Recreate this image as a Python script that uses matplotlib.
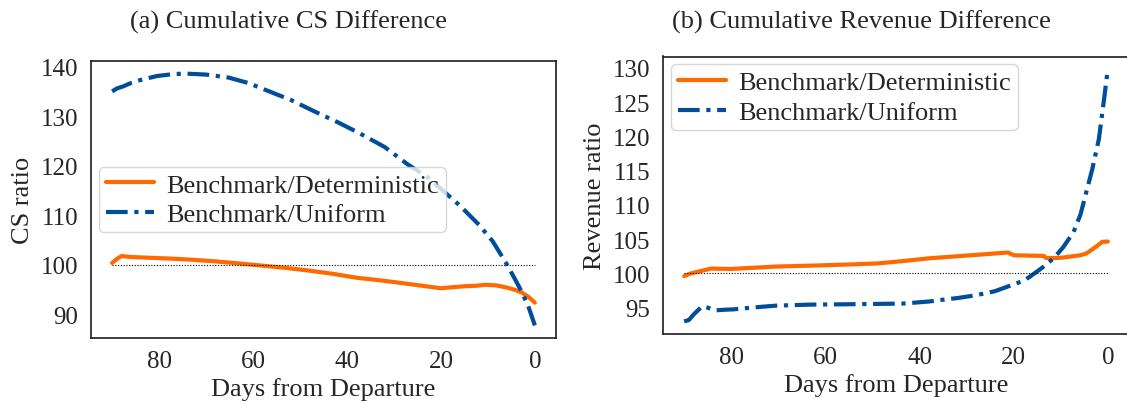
import matplotlib
matplotlib.use("Agg")
import matplotlib.pyplot as plt
import seaborn as sns

sns.set_style("white")
plt.rcParams['font.family'] = ['Liberation Serif', 'DejaVu Serif']

# ---- data (a) Cumulative CS difference ----
cs_det_days = [90, 89, 88, 86, 83.5, 78, 73, 68.4, 63, 58, 53, 48, 43, 37.8, 33, 28, 24, 20, 17, 15, 12.5, 10.4, 8, 5.8, 4, 2.7, 1.3, 0]
cs_det_vals = [100.4, 101.2, 101.8, 101.6, 101.5, 101.3, 101.05, 100.75, 100.3, 99.85, 99.4, 98.85, 98.2, 97.4, 96.9, 96.3, 95.8, 95.3, 95.55, 95.7, 95.8, 96.0, 95.85, 95.4, 94.9, 94.4, 93.5, 92.4]

cs_uni_days = [90, 89, 87.7, 86, 84, 80.5, 77, 74.4, 70, 65.2, 61, 57.6, 52, 47, 42, 37.8, 32, 27.1, 23, 20.3, 16, 11.9, 9, 6.2, 4.5, 2.8, 1.3, 0]
cs_uni_vals = [135.0, 135.6, 136.0, 136.7, 137.3, 138.1, 138.5, 138.6, 138.4, 137.8, 136.7, 135.4, 133.3, 131.0, 128.8, 126.8, 123.8, 120.3, 117.8, 115.6, 112.0, 108.1, 104.8, 100.5, 97.6, 94.6, 91.4, 87.8]

# ---- data (b) Cumulative revenue difference ----
rev_det_days = [90, 88.8, 87.4, 85.5, 84.3, 80, 76, 70.4, 62, 55, 49, 43.5, 38, 32, 26, 21.2, 20, 17, 13.6, 13.1, 11, 9.6, 7.5, 5.8, 4.6, 3.5, 2.3, 1.2, 0]
rev_det_vals = [99.6, 99.95, 100.2, 100.5, 100.7, 100.65, 100.8, 101.0, 101.15, 101.3, 101.45, 101.8, 102.2, 102.5, 102.8, 103.05, 102.65, 102.6, 102.55, 102.25, 102.25, 102.3, 102.5, 102.65, 102.9, 103.4, 104.0, 104.6, 104.65]

rev_uni_days = [90, 89, 88, 86.2, 85, 83.5, 81.5, 79.6, 75, 70.4, 63, 55, 49, 43.5, 38, 35.8, 32, 28.1, 24, 20.4, 18, 16.6, 14, 11.5, 9.5, 7.3, 5.8, 4.6, 3.3, 1.9, 0.8, 0]
rev_uni_vals = [93.0, 93.2, 94.0, 95.2, 95.0, 94.6, 94.7, 94.75, 95.05, 95.3, 95.45, 95.5, 95.55, 95.6, 95.9, 96.1, 96.4, 96.8, 97.4, 98.3, 98.9, 99.5, 100.8, 102.2, 103.8, 106.0, 108.6, 111.8, 115.2, 119.6, 125.4, 129.8]

ref_days = [90, 0]
ref_vals = [100, 100]

orange = '#ff6a00'
blue = '#004d99'
fs = 19
tfs = 18
lw = 3.0
dashdot = (0, (5.2, 1.6, 1.0, 1.6))

fig = plt.figure(figsize=(11.27, 4.06), dpi=100)
W, H = 1127, 406
ax1 = fig.add_axes([91 / W, 1 - 339 / H, 465 / W, 277 / H])
ax2 = fig.add_axes([663 / W, 1 - 335 / H, 466 / W, 277.5 / H])

for ax in (ax1, ax2):
    for s in ax.spines.values():
        s.set_color('0.15')
        s.set_linewidth(1.25)
    ax.tick_params(labelsize=tfs, length=0, pad=9)
    ax.set_xlim(94.5, -4.5)
    ax.set_xticks([80, 60, 40, 20, 0])
    ax.set_xlabel('Days from Departure', fontsize=fs, labelpad=3)

leg_kw = dict(fontsize=fs, frameon=True, handlelength=1.85, handletextpad=0.45,
              borderpad=0.25, labelspacing=0.22, borderaxespad=0.3)

ax1.plot(cs_det_days, cs_det_vals, color=orange, lw=lw, label='Benchmark/Deterministic')
ax1.plot(cs_uni_days, cs_uni_vals, color=blue, lw=lw, ls=dashdot, label='Benchmark/Uniform')
ax1.plot(ref_days, ref_vals, color='black', lw=0.8, ls=(0, (1, 1.5)))
ax1.set_yticks([90, 100, 110, 120, 130, 140])
ax1.set_ylabel('CS ratio', fontsize=fs, labelpad=5)
ax1.legend(loc='center left', **leg_kw)

ax2.plot(rev_det_days, rev_det_vals, color=orange, lw=lw, label='Benchmark/Deterministic')
ax2.plot(rev_uni_days, rev_uni_vals, color=blue, lw=lw, ls=dashdot, label='Benchmark/Uniform')
ax2.plot(ref_days, ref_vals, color='black', lw=0.8, ls=(0, (1, 1.5)))
ax2.set_yticks([95, 100, 105, 110, 115, 120, 125, 130])
ax2.set_ylabel('Revenue ratio', fontsize=fs, labelpad=5)
ax2.legend(loc='upper left', **leg_kw)

fig.text(288 / W, 1 - 28.5 / H, '(a) Cumulative CS Difference', fontsize=fs,
         ha='center', va='baseline')
fig.text(861 / W, 1 - 28.5 / H, '(b) Cumulative Revenue Difference', fontsize=fs,
         ha='center', va='baseline')

fig.savefig('out.png', dpi=100)
